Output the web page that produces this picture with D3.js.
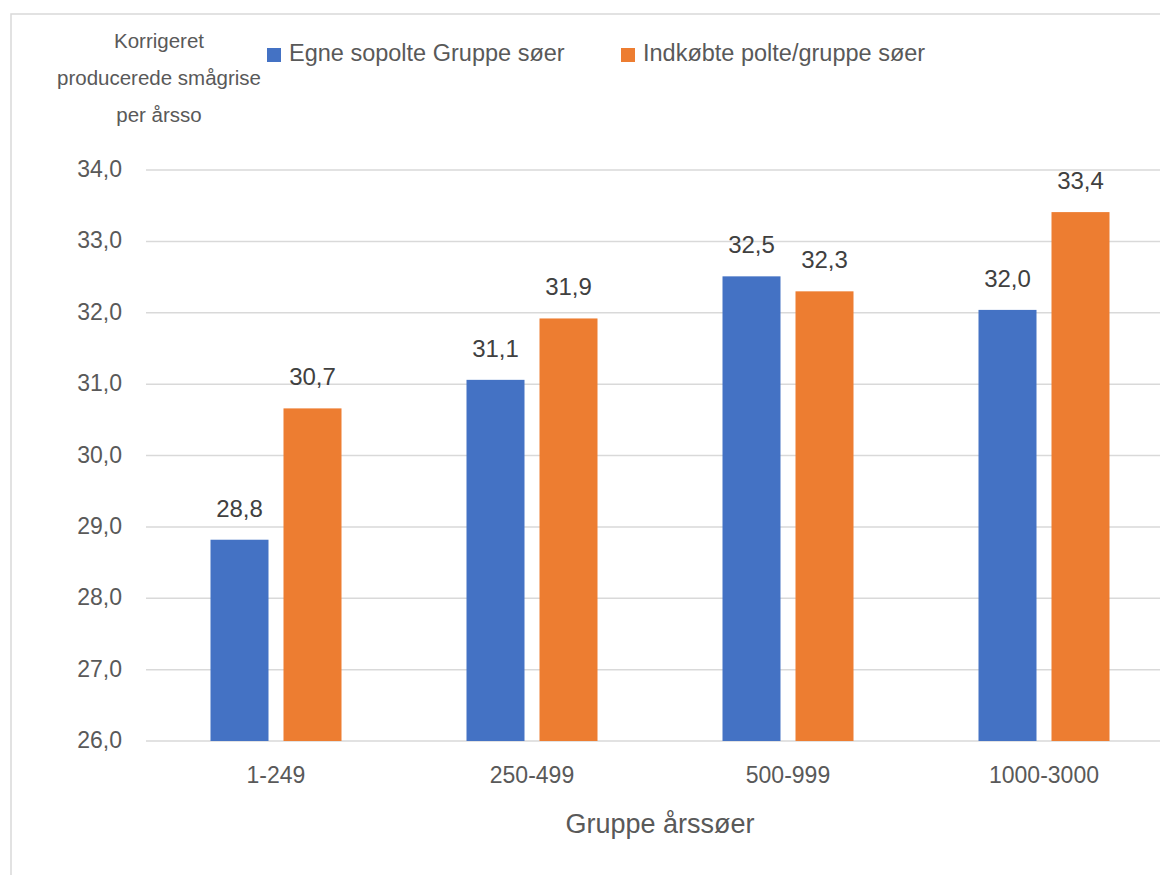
<!DOCTYPE html>
<html lang="da">
<head>
<meta charset="UTF-8">
<title>Smågrise per årsso</title>
<script src="https://d3js.org/d3.v7.min.js"></script>
<style>
  body { margin: 0; background: #fff; }
  text { font-family: "Liberation Sans", Arial, sans-serif; fill: #595959; }
</style>
</head>
<body>
<script>
// data
var categories = ["1-249", "250-499", "500-999", "1000-3000"];
var seriesNames = ["Egne sopolte Gruppe søer", "Indkøbte polte/gruppe søer"];
var egne = [28.82, 31.06, 32.51, 32.04];
var indkobte = [30.66, 31.92, 32.30, 33.41];
var yTicks = [26, 27, 28, 29, 30, 31, 32, 33, 34];
var colors = ["#4472c4", "#ed7d31"];

var width = 1160, height = 875;
var margin = { left: 148, right: -12, top: 170, bottom: 134 };

var svg = d3.select("body").append("svg")
    .attr("width", width)
    .attr("height", height);

// chart frame (runs past the right and bottom edges)
svg.append("rect")
    .attr("x", 11).attr("y", 14)
    .attr("width", 1170).attr("height", 880)
    .attr("fill", "none")
    .attr("stroke", "#d9d9d9")
    .attr("stroke-width", 1.5);

var x = d3.scaleBand()
    .domain(categories)
    .range([margin.left, width - margin.right]);

var y = d3.scaleLinear()
    .domain([26, 34])
    .range([height - margin.bottom, margin.top]);

// gridlines
svg.append("g")
    .selectAll("line")
    .data(yTicks)
    .enter()
    .append("line")
    .attr("x1", 146)
    .attr("x2", width - margin.right)
    .attr("y1", d => y(d))
    .attr("y2", d => y(d))
    .attr("stroke", "#d9d9d9")
    .attr("stroke-width", 1.5);

// y tick labels
svg.append("g")
    .selectAll("text")
    .data(yTicks)
    .enter()
    .append("text")
    .attr("x", 122)
    .attr("y", d => y(d) + 7)
    .attr("text-anchor", "end")
    .style("font-size", "23px")
    .text(d => d3.format(".1f")(d).replace(".", ","));

var barW = 58, gap = 15;
var series = [egne, indkobte];

series.forEach(function (vals, s) {
    var g = svg.append("g");
    var xOff = function (i) {
        var c = x(categories[i]) + x.bandwidth() / 2;
        return s === 0 ? c - gap / 2 - barW : c + gap / 2;
    };
    g.selectAll("rect")
        .data(vals)
        .enter()
        .append("rect")
        .attr("x", (d, i) => xOff(i))
        .attr("width", barW)
        .attr("y", d => y(d))
        .attr("height", d => y(26) - y(d))
        .attr("fill", colors[s]);
    g.selectAll("text")
        .data(vals)
        .enter()
        .append("text")
        .attr("x", (d, i) => xOff(i) + barW / 2)
        .attr("y", d => y(d) - 23)
        .attr("text-anchor", "middle")
        .style("font-size", "24px")
        .style("fill", "#404040")
        .text(d => d3.format(".1f")(d).replace(".", ","));
});

// x axis labels
svg.append("g")
    .selectAll("text")
    .data(categories)
    .enter()
    .append("text")
    .attr("x", d => x(d) + x.bandwidth() / 2)
    .attr("y", 783)
    .attr("text-anchor", "middle")
    .style("font-size", "23px")
    .text(d => d);

// x title
svg.append("text")
    .attr("x", 660)
    .attr("y", 833)
    .attr("text-anchor", "middle")
    .style("font-size", "27px")
    .text("Gruppe årssøer");

// y title (three lines)
var yTitle = ["Korrigeret", "producerede smågrise", "per årsso"];
svg.append("g")
    .selectAll("text")
    .data(yTitle)
    .enter()
    .append("text")
    .attr("x", 159)
    .attr("y", (d, i) => 48 + i * 37)
    .attr("text-anchor", "middle")
    .style("font-size", "20.5px")
    .text(d => d);

// legend
var legendX = [267, 621];
var leg = svg.append("g")
    .selectAll("g")
    .data(seriesNames)
    .enter()
    .append("g")
    .attr("transform", (d, i) => "translate(" + legendX[i] + ",48)");
leg.append("rect")
    .attr("width", 14).attr("height", 14)
    .attr("fill", (d, i) => colors[i]);
leg.append("text")
    .attr("x", 22)
    .attr("y", 13)
    .style("font-size", "23.5px")
    .text(d => d);
</script>
</body>
</html>
